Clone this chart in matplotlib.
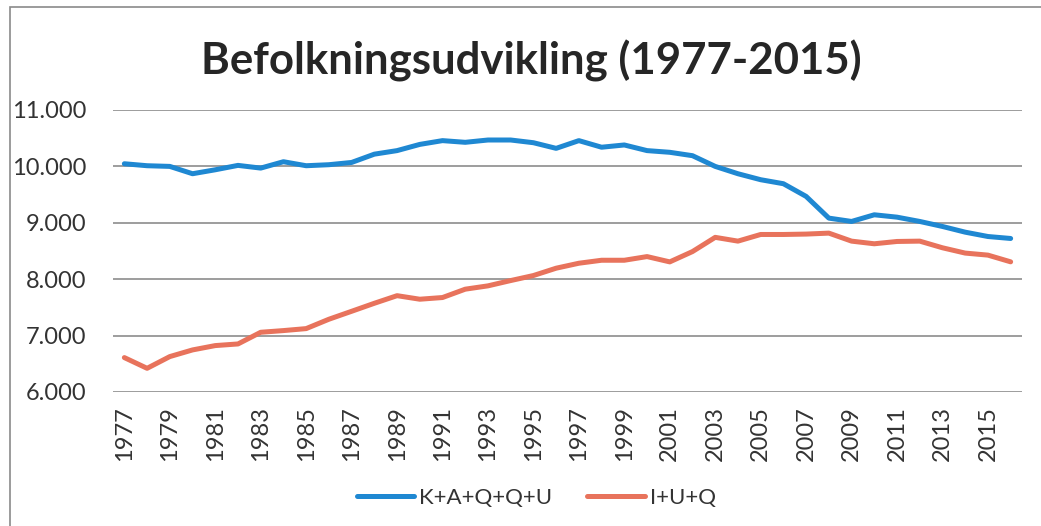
import matplotlib
matplotlib.use("Agg")
import matplotlib.pyplot as plt
from matplotlib.patches import Rectangle
from matplotlib.ticker import FuncFormatter

years = list(range(1977, 2017))

# K+A+Q+Q+U
series_kaqqu = [10047, 10012, 10000, 9870, 9940, 10018, 9970, 10083, 10012, 10030,
                10070, 10217, 10280, 10390, 10457, 10427, 10468, 10468, 10420, 10320,
                10457, 10340, 10380, 10280, 10250, 10190, 10000, 9870, 9764, 9693,
                9468, 9083, 9024, 9142, 9100, 9024, 8935, 8834, 8757, 8722]

# I+U+Q
series_iuq = [6610, 6420, 6628, 6746, 6823, 6852, 7059, 7089, 7124, 7290,
              7431, 7573, 7708, 7645, 7675, 7823, 7882, 7976, 8065, 8195,
              8283, 8336, 8336, 8401, 8307, 8490, 8742, 8675, 8793, 8793,
              8800, 8817, 8675, 8628, 8669, 8675, 8557, 8463, 8427, 8308]

labels = ["K+A+Q+Q+U", "I+U+Q"]
title = "Befolkningsudvikling (1977-2015)"

plt.rcParams['font.family'] = ['Lato', 'DejaVu Sans']

fig = plt.figure(figsize=(10.41, 5.26), dpi=100)
ax = fig.add_axes([113 / 1041, 1 - 392 / 526, 909 / 1041, 282 / 526])

x = list(range(len(years)))
ax.plot(x, series_kaqqu, color="#1f88d2", lw=3.6, solid_capstyle="round", label=labels[0])
ax.plot(x, series_iuq, color="#e8735c", lw=3.6, solid_capstyle="round", label=labels[1])

ax.set_xlim(-0.5, len(years) - 0.5)
ax.set_ylim(6000, 11000)
ax.set_yticks(range(6000, 11001, 1000))
ax.yaxis.set_major_formatter(FuncFormatter(lambda v, p: f"{int(v):,}".replace(",", ".")))
ax.set_xticks(x[::2])
ax.set_xticklabels([str(y) for y in years[::2]], rotation=90)

ax.grid(axis="y", color="#8c8c8c", lw=1.2)
ax.set_axisbelow(True)
for s in ax.spines.values():
    s.set_visible(False)
ax.tick_params(axis="both", length=0, labelsize=17, colors="#333333")
ax.tick_params(axis="y", pad=19.5)
ax.tick_params(axis="x", pad=10)

fig.text(0.51, 1 - 61 / 526, title, ha="center", va="center",
         fontsize=31.5, fontweight="bold", color="#262626")

fig.legend(loc="center", bbox_to_anchor=(0.515, 1 - 498 / 526), ncol=2, frameon=False,
           fontsize=16, handlelength=2.6, columnspacing=1.6, handletextpad=0.2,
           labelcolor="#333333")

fig.patches.append(Rectangle((10 / 1041, -0.1), 1.2, 1.1 - 7 / 526, transform=fig.transFigure,
                             fill=False, edgecolor="#8a8a8a", lw=1.2))

fig.savefig("out.png", dpi=100, facecolor="white")
